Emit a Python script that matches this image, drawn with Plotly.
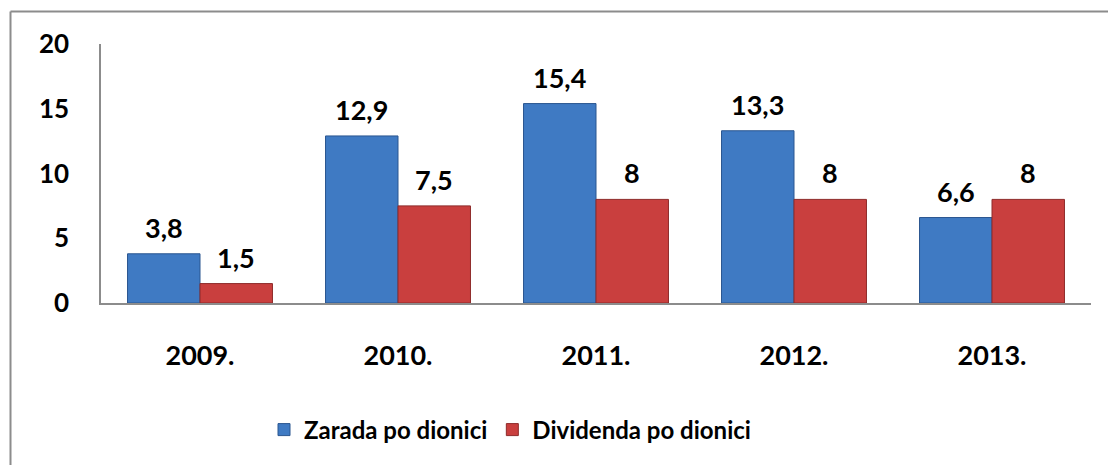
import plotly.graph_objects as go

categories = ["2009.", "2010.", "2011.", "2012.", "2013."]
zarada = [3.8, 12.9, 15.4, 13.3, 6.6]
dividenda = [1.5, 7.5, 8, 8, 8]
zarada_labels = ["3,8", "12,9", "15,4", "13,3", "6,6"]
dividenda_labels = ["1,5", "7,5", "8", "8", "8"]
y_ticks = [0, 5, 10, 15, 20]

FONT = "Lato"
W, H = 1108, 465
L, R, T, B = 101, 17, 44, 162

fig = go.Figure()
fig.add_trace(go.Bar(
    x=categories, y=zarada, name="Zarada po dionici",
    marker=dict(color="#3f7ac3", line=dict(color="#2a5690", width=1)),
))
fig.add_trace(go.Bar(
    x=categories, y=dividenda, name="Dividenda po dionici",
    marker=dict(color="#c93f3e", line=dict(color="#8e2b2a", width=1)),
))

bar_px = (W - L - R) / len(categories) * (1 - 0.268) / 2
for series, labels, shift in [(zarada, zarada_labels, -bar_px / 2), (dividenda, dividenda_labels, bar_px / 2)]:
    for i, (v, t) in enumerate(zip(series, labels)):
        fig.add_annotation(
            x=i, y=v, text="<b>%s</b>" % t, showarrow=False,
            xshift=shift, yshift=8, yanchor="bottom",
            font=dict(family=FONT, size=27, color="#000000"),
        )

plot_w = W - L - R
plot_h = H - T - B
def px_x(p):
    return (p - L) / plot_w
def px_y(p):
    return (H - B - p) / plot_h

# outer chart border (top and left visible)
fig.add_shape(type="line", xref="paper", yref="paper",
              x0=px_x(10.5), x1=px_x(1108), y0=px_y(11.5), y1=px_y(11.5),
              line=dict(color="#8c8c8c", width=2))
fig.add_shape(type="line", xref="paper", yref="paper",
              x0=px_x(10.5), x1=px_x(10.5), y0=px_y(11.5), y1=px_y(470),
              line=dict(color="#8c8c8c", width=2))

fig.update_layout(
    width=W, height=H,
    margin=dict(l=L, r=R, t=T, b=B),
    paper_bgcolor="white", plot_bgcolor="white",
    barmode="group", bargap=0.268, bargroupgap=0,
    showlegend=True,
    legend=dict(orientation="h", x=px_x(510), xanchor="center", y=px_y(430), yanchor="middle",
                font=dict(family=FONT, size=24, color="#000000"),
                tracegroupgap=0),
    font=dict(family=FONT, color="#000000"),
)
fig.update_xaxes(
    type="category", range=[-0.5, len(categories) - 0.5],
    tickvals=categories, ticktext=["<b>%s</b>" % c for c in categories],
    showline=True, linecolor="#8c8c8c", linewidth=1.5, showgrid=False,
    tickfont=dict(family=FONT, size=27, color="#000000"),
    ticklabelstandoff=28, ticks="",
)
fig.update_yaxes(
    range=[0, 20], tickvals=y_ticks, ticktext=["<b>%d</b>" % v for v in y_ticks],
    showline=True, linecolor="#8c8c8c", linewidth=1.5, showgrid=False, zeroline=False,
    tickfont=dict(family=FONT, size=26, color="#000000"),
    ticklabelstandoff=25, ticks="",
)
fig.data[0].name = "<b>Zarada po dionici</b>"
fig.data[1].name = "<b>Dividenda po dionici</b>"

fig.write_html("out.html")
